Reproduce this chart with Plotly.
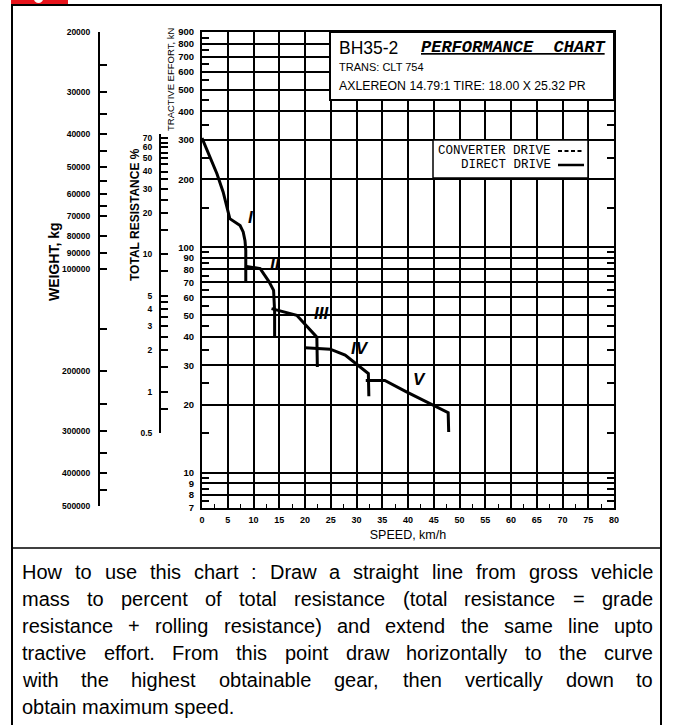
import plotly.graph_objects as go
import math

W, H = 673, 725
ML, MR, MT, MB = 100, 59, 32, 217
PW = W - ML - MR
PH = H - MT - MB


def px(x):
    return (x - ML) / PW


def py(y):
    return (H - MB - y) / PH


# ---------------- data ----------------
speed_ticks = list(range(0, 81, 5))
speed_minor = [v + 2.5 for v in range(0, 80, 5)]
te_ticks = [7, 8, 9, 10, 20, 30, 40, 50, 60, 70, 80, 90, 100, 200, 300, 400, 500, 600, 700, 800, 900]
te_minor = [7.5, 8.5, 9.5, 15, 25, 35, 45, 55, 65, 75, 85, 95, 150, 250, 350, 450, 550, 650, 750, 850]
weight_ticks = [20000, 30000, 40000, 50000, 60000, 70000, 80000, 90000, 100000, 200000, 300000, 400000, 500000]
weight_minor = [25000, 35000, 45000, 55000, 65000, 150000, 250000, 350000, 450000]
res_ticks = [0.5, 1, 2, 3, 4, 5, 10, 20, 30, 40, 50, 60, 70]
res_labels = ["0.5", "1", "2", "3", "4", "5", "10", "20", "30", "40", "50", "60", "70"]
res_minor = [0.75, 1.5, 2.5, 3.5, 4.5, 7.5, 15, 25, 35, 45, 55, 65, 75]

gear1_speed = [0, 1.5, 2.9, 4.1, 5.4, 7.4, 8.0, 8.35, 8.5, 8.5]
gear1_te = [305, 255, 212, 176, 134, 125, 117, 107, 97, 70]
gear2_speed = [8.35, 11.3, 13.0, 13.9, 14.1, 14.1]
gear2_te = [82.5, 80.5, 70.5, 64.5, 52, 40]
gear3_speed = [13.5, 18.4, 22.3, 22.4]
gear3_te = [53.5, 50, 40, 29.5]
gear4_speed = [20.0, 24.9, 27.8, 32.3, 32.4]
gear4_te = [35.9, 35.4, 33.3, 27.6, 21.9]
gear5_speed = [31.8, 35.5, 39.7, 44.9, 47.8, 47.9]
gear5_te = [25.7, 25.7, 22.9, 20.0, 18.5, 15.2]

gear_names = ["I", "II", "III", "IV", "V"]
gear_label_speed = [9.6, 14.2, 23.2, 30.7, 42.2]
gear_label_te = [135, 84, 51, 35.6, 25.9]

how_to = [
    "How to use this chart : Draw a straight line from gross vehicle",
    "mass to percent of total resistance (total resistance = grade",
    "resistance + rolling resistance) and extend the same line upto",
    "tractive effort. From this point draw horizontally to the curve",
    "with the highest obtainable gear, then vertically down to",
    "obtain maximum speed.",
]

NARROW = "Liberation Sans, Arial, sans-serif"
SANS = "Liberation Sans, Arial, sans-serif"
MONO = "Liberation Mono, Courier New, monospace"

fig = go.Figure()

gears = [(gear1_speed, gear1_te), (gear2_speed, gear2_te), (gear3_speed, gear3_te),
         (gear4_speed, gear4_te), (gear5_speed, gear5_te)]
for (sx, sy), name in zip(gears, gear_names):
    fig.add_trace(go.Scatter(x=sx, y=sy, mode="lines", name=name,
                             line=dict(color="black", width=3), showlegend=False,
                             hoverinfo="skip"))

for name, gx, gy in zip(gear_names, gear_label_speed, gear_label_te):
    fig.add_annotation(x=gx, y=math.log10(gy), xref="x", yref="y", text=name, showarrow=False,
                       font=dict(family=SANS, size=17, color="black", weight="bold", style="italic"))

# dummy traces so the side scales exist
fig.add_trace(go.Scatter(x=[0.5], y=[100000], xaxis="x2", yaxis="y2", mode="markers",
                         marker=dict(size=1, opacity=0), showlegend=False, hoverinfo="skip"))
fig.add_trace(go.Scatter(x=[0.5], y=[5], xaxis="x3", yaxis="y3", mode="markers",
                         marker=dict(size=1, opacity=0), showlegend=False, hoverinfo="skip"))

tickf = dict(family=NARROW, size=9.5, color="black", weight="bold")

fig.update_layout(
    width=W, height=H,
    margin=dict(l=ML, r=MR, t=MT, b=MB, pad=0),
    paper_bgcolor="white", plot_bgcolor="white",
    showlegend=False,
    xaxis=dict(
        domain=[px(202), 1], range=[0, 80],
        tickmode="array", tickvals=speed_ticks, ticktext=[str(v) for v in speed_ticks],
        showgrid=True, gridcolor="black", gridwidth=1.5, zeroline=False,
        showline=True, linecolor="black", linewidth=2, mirror=True, ticks="",
        tickfont=dict(family=NARROW, size=9, color="black", weight="bold"),
        ticklabelstandoff=2,
        minor=dict(tickmode="array", tickvals=speed_minor, ticks="inside", ticklen=4,
                   tickwidth=1.2, tickcolor="black", showgrid=False),
        title=dict(text="SPEED, km/h", font=dict(family=SANS, size=12.5, color="black"), standoff=6),
    ),
    yaxis=dict(
        type="log", range=[math.log10(7), math.log10(900)],
        tickmode="array", tickvals=te_ticks, ticktext=[str(v) for v in te_ticks],
        showgrid=True, gridcolor="black", gridwidth=1.5, zeroline=False,
        showline=True, linecolor="black", linewidth=2, mirror="ticks", ticks="",
        tickfont=tickf, ticklabelstandoff=4,
        minor=dict(tickmode="array", tickvals=te_minor, ticks="inside", ticklen=7,
                   tickwidth=1.5, tickcolor="black", showgrid=False),
    ),
    xaxis2=dict(domain=[0, 0.01], range=[0, 1], visible=False, fixedrange=True),
    yaxis2=dict(
        anchor="x2", domain=[py(506), 1.0], type="log",
        range=[math.log10(500000), math.log10(20000)],
        tickmode="array", tickvals=weight_ticks, ticktext=[str(v) for v in weight_ticks],
        showline=True, linecolor="black", linewidth=2, showgrid=False, zeroline=False,
        ticks="inside", ticklen=7, tickwidth=1.5, tickcolor="black",
        tickfont=dict(family=NARROW, size=8.5, color="black", weight="bold"), ticklabelstandoff=6,
        minor=dict(tickmode="array", tickvals=weight_minor, ticks="inside", ticklen=7,
                   tickwidth=1.5, tickcolor="black", showgrid=False),
    ),
    xaxis3=dict(domain=[px(161), px(161) + 0.01], range=[0, 1], visible=False, fixedrange=True),
    yaxis3=dict(
        anchor="x3", domain=[py(433), py(134)], type="log",
        range=[math.log10(0.5), math.log10(75)],
        tickmode="array", tickvals=res_ticks, ticktext=res_labels,
        showline=True, linecolor="black", linewidth=2, showgrid=False, zeroline=False,
        ticks="inside", ticklen=7, tickwidth=1.5, tickcolor="black",
        tickfont=dict(family=NARROW, size=8.5, color="black", weight="bold"), ticklabelstandoff=5,
        minor=dict(tickmode="array", tickvals=res_minor, ticks="inside", ticklen=7,
                   tickwidth=1.5, tickcolor="black", showgrid=False),
    ),
)

shapes = []
# outer frame
shapes.append(dict(type="rect", xref="paper", yref="paper", x0=px(12), x1=px(661), y0=py(740), y1=py(5),
                   line=dict(color="black", width=2), fillcolor="rgba(0,0,0,0)", layer="above"))
# red tab
shapes.append(dict(type="rect", xref="paper", yref="paper", x0=px(11), x1=px(68), y0=py(4), y1=py(-6),
                   line=dict(width=0), fillcolor="#e8141c", layer="above"))
shapes.append(dict(type="circle", xref="paper", yref="paper", x0=px(34), x1=px(43), y0=py(3), y1=py(-5),
                   line=dict(width=0), fillcolor="white", layer="above"))
# separator
shapes.append(dict(type="line", xref="paper", yref="paper", x0=px(12), x1=px(661), y0=py(548), y1=py(548),
                   line=dict(color="black", width=1.5), layer="above"))
# title box
shapes.append(dict(type="rect", xref="paper", yref="paper", x0=px(330), x1=1, y0=py(100), y1=1,
                   line=dict(color="black", width=2), fillcolor="white", layer="above"))
# legend box
shapes.append(dict(type="rect", xref="paper", yref="paper", x0=px(433), x1=px(588), y0=py(178), y1=py(140),
                   line=dict(color="black", width=1.5), fillcolor="white", layer="above"))
shapes.append(dict(type="line", xref="paper", yref="paper", x0=px(558), x1=px(584), y0=py(151), y1=py(151),
                   line=dict(color="black", width=2, dash="4px,2.5px"), layer="above"))
shapes.append(dict(type="line", xref="paper", yref="paper", x0=px(558), x1=px(584), y0=py(165), y1=py(165),
                   line=dict(color="black", width=2.5), layer="above"))
fig.update_layout(shapes=shapes)


def ann(text, x, y, size, family=SANS, xanchor="left", angle=0, **fk):
    fig.add_annotation(text=text, x=px(x), y=py(y), xref="paper", yref="paper", showarrow=False,
                       xanchor=xanchor, yanchor="middle", textangle=angle,
                       font=dict(family=family, size=size, color="black", **fk))


ann("BH35-2", 337, 48, 17.5)
ann("PERFORMANCE\u00a0 CHART", 419, 47, 17, family=MONO, weight="bold", style="italic", lineposition="under")
ann("TRANS: CLT 754", 337, 67, 11)
ann("AXLEREON 14.79:1 TIRE: 18.00 X 25.32 PR", 337, 86, 12.3)
ann("CONVERTER DRIVE", 553, 151, 12.5, family=MONO, xanchor="right")
ann("DIRECT DRIVE", 553, 165, 12.5, family=MONO, xanchor="right")

ann("WEIGHT, kg", 54, 262, 14, xanchor="center", angle=-90, weight="bold")
ann("TOTAL RESISTANCE %", 135, 215, 12, xanchor="center", angle=-90, weight="bold")
ann("TRACTIVE EFFORT, kN", 171, 80, 9.5, xanchor="center", angle=-90)

# justified paragraph (Arial-metric widths, per 1000 em)
AW = {" ": 278, "(": 333, ")": 333, "+": 584, ",": 278, ".": 278, ":": 278, "=": 584,
      "D": 722, "F": 611, "H": 722, "T": 611,
      "a": 556, "b": 556, "c": 500, "d": 556, "e": 556, "f": 278, "g": 556, "h": 556,
      "i": 222, "j": 222, "k": 500, "l": 222, "m": 833, "n": 556, "o": 556, "p": 556,
      "q": 556, "r": 333, "s": 500, "t": 278, "u": 556, "v": 500, "w": 722, "x": 500,
      "y": 500, "z": 500}
FS = 20
X0, X1 = 20, 651


def wwidth(s):
    return sum(AW.get(c, 556) for c in s) * FS / 1000.0


for i, line in enumerate(how_to):
    yc = 572 + 27 * i
    if i == len(how_to) - 1:
        ann(line, X0, yc, FS)
        continue
    words = line.split(" ")
    widths = [wwidth(w) for w in words]
    gap = (X1 - X0 - sum(widths)) / (len(words) - 1)
    x = X0
    for w, wd in zip(words, widths):
        ann(w, x, yc, FS)
        x += wd + gap

fig.write_html("out.html", config={"displayModeBar": False},
               post_script="document.body.style.margin='0px';")
